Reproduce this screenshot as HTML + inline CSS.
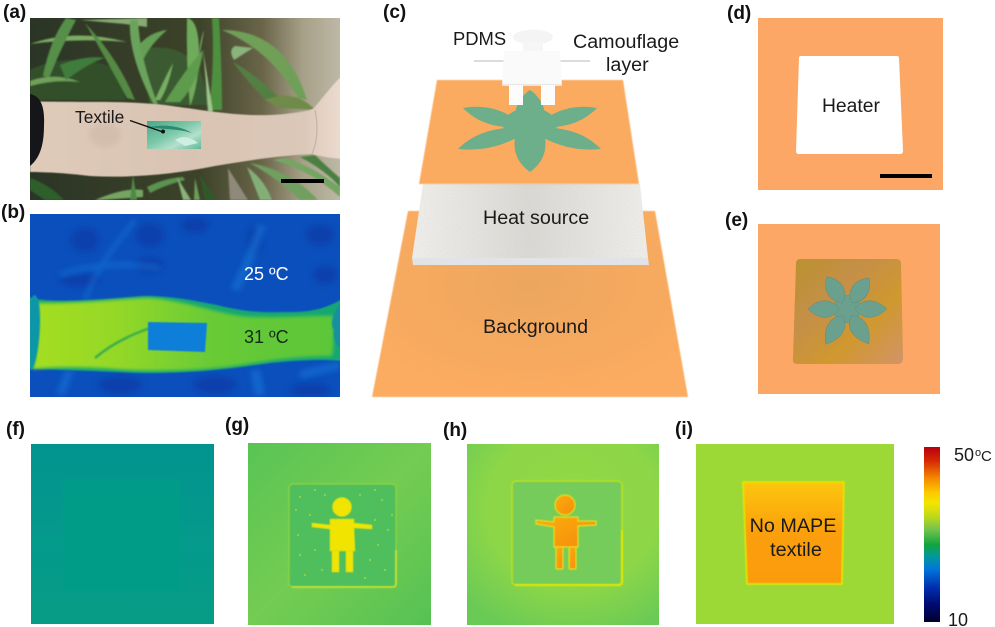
<!DOCTYPE html>
<html><head><meta charset="utf-8"><style>
html,body{margin:0;padding:0;background:#fff;width:995px;height:627px;overflow:hidden}
svg{display:block}
text{font-family:"Liberation Sans",sans-serif;fill:#1a1a1a}
.l{font-weight:bold;font-size:19px;fill:#111}
</style></head><body>
<svg width="995" height="627" viewBox="0 0 995 627" xmlns="http://www.w3.org/2000/svg">
<defs>
<filter id="b1" x="-10%" y="-10%" width="120%" height="120%"><feGaussianBlur stdDeviation="0.7"/></filter>
<filter id="b15" x="-10%" y="-10%" width="120%" height="120%"><feGaussianBlur stdDeviation="1.6"/></filter>
<filter id="b2" x="-20%" y="-20%" width="140%" height="140%"><feGaussianBlur stdDeviation="3"/></filter>
<filter id="soft" x="-10%" y="-10%" width="120%" height="120%"><feGaussianBlur stdDeviation="0.5"/></filter>
<filter id="grain" x="0" y="0" width="100%" height="100%"><feTurbulence type="fractalNoise" baseFrequency=".9" numOctaves="2" seed="3"/><feColorMatrix values="0 0 0 0 .45  0 0 0 0 .45  0 0 0 0 .42  0 0 0 1.1 -.42"/><feComposite in2="SourceGraphic" operator="in"/></filter>
<clipPath id="ca"><rect x="30" y="18" width="310" height="182"/></clipPath>
<clipPath id="cb"><rect x="30" y="214" width="310" height="183"/></clipPath>
<linearGradient id="aBg" x1="0" x2="1" y1="0" y2="0"><stop offset="0" stop-color="#2b3526"/><stop offset=".55" stop-color="#3d4329"/><stop offset=".75" stop-color="#6a6549"/><stop offset=".88" stop-color="#a7a088"/><stop offset="1" stop-color="#bdb8a6"/></linearGradient>
<linearGradient id="arm" x1="0" x2="1" y1="0" y2="0"><stop offset="0" stop-color="#e0cbba"/><stop offset=".5" stop-color="#d9c4b3"/><stop offset=".88" stop-color="#dcc8b9"/><stop offset="1" stop-color="#ecdcd0"/></linearGradient>
<linearGradient id="tex" x1="0" x2="1" y1="0" y2="1"><stop offset="0" stop-color="#45a98a"/><stop offset=".45" stop-color="#7cc8a8"/><stop offset=".7" stop-color="#b4e0cd"/><stop offset="1" stop-color="#5fb79a"/></linearGradient>
<linearGradient id="bArm" x1="0" x2="1" y1="0" y2="0"><stop offset="0" stop-color="#a4de20"/><stop offset=".28" stop-color="#94d828"/><stop offset=".6" stop-color="#68ca36"/><stop offset="1" stop-color="#5cc63a"/></linearGradient>
<linearGradient id="bf" x1="0" x2="0" y1="0" y2="1"><stop offset="0" stop-color="#02938f"/><stop offset=".55" stop-color="#049a8c"/><stop offset="1" stop-color="#069c85"/></linearGradient>
<linearGradient id="cb2" x1="0" x2="0" y1="0" y2="1">
<stop offset="0" stop-color="#b8000f"/><stop offset=".08" stop-color="#d52a05"/><stop offset=".18" stop-color="#f58a00"/><stop offset=".26" stop-color="#fdc800"/><stop offset=".32" stop-color="#f3e600"/><stop offset=".4" stop-color="#bcd81c"/><stop offset=".47" stop-color="#74c44c"/><stop offset=".56" stop-color="#0fa53e"/><stop offset=".62" stop-color="#029a96"/><stop offset=".7" stop-color="#0075dc"/><stop offset=".8" stop-color="#0030b0"/><stop offset=".9" stop-color="#000a70"/><stop offset="1" stop-color="#000030"/></linearGradient>
<linearGradient id="hs" x1="0" x2="1" y1="0" y2="0"><stop offset="0" stop-color="#f0efeb"/><stop offset=".5" stop-color="#dad9d5"/><stop offset="1" stop-color="#efeeea"/></linearGradient>
<radialGradient id="bgO" cx=".5" cy=".4" r=".6"><stop offset="0" stop-color="#eda65f"/><stop offset="1" stop-color="#fbac60"/></radialGradient>
<linearGradient id="metal" x1="0" x2="1" y1="0" y2="1"><stop offset="0" stop-color="#b9922f"/><stop offset=".35" stop-color="#c58f48"/><stop offset=".65" stop-color="#d0982e"/><stop offset="1" stop-color="#d29468"/></linearGradient>
<linearGradient id="gO" x1="0" x2="1" y1="0" y2="1"><stop offset="0" stop-color="#58c454"/><stop offset=".5" stop-color="#74cc52"/><stop offset="1" stop-color="#56c254"/></linearGradient>
<radialGradient id="hO" cx=".55" cy=".35" r=".75"><stop offset="0" stop-color="#94d844"/><stop offset=".6" stop-color="#8cd648"/><stop offset="1" stop-color="#6aca56"/></radialGradient>
<linearGradient id="iO" x1="0" x2="0" y1="0" y2="1"><stop offset="0" stop-color="#fdc60a"/><stop offset=".5" stop-color="#fb9f0d"/><stop offset="1" stop-color="#fb9c10"/></linearGradient>
<linearGradient id="hB" x1="0" x2="1" y1="0" y2="1"><stop offset="0" stop-color="#fcae0c"/><stop offset="1" stop-color="#f68a08"/></linearGradient>
</defs>

<!-- a -->
<g clip-path="url(#ca)">
<rect x="30" y="18" width="310" height="182" fill="url(#aBg)"/>
<g filter="url(#b1)">
<path d="M30 70 Q70 50 120 70 L125 100 L30 100Z" fill="#33502c"/>
<path d="M140 50 Q180 40 200 70 L210 105 L150 105Z" fill="#3a5a30"/>
<path d="M30 44 Q75 28 127 42 Q75 38 30 44Z" fill="#7cab62"/>
<path d="M80 20 L147 18 L147 27 L125 24Z" fill="#86ab72"/>
<path d="M43 76 Q50 40 66 18 L76 20 Q60 50 49 78Z" fill="#568f48"/>
<path d="M85 23 Q118 58 135 100 L127 98 Q108 62 85 23Z" fill="#558a45"/>
<path d="M153 103 Q128 55 130 20 L138 20 Q140 60 158 105Z" fill="#6ba45c"/>
<path d="M143 60 Q150 45 167 30 Q150 32 139 45Z" fill="#659f55"/>
<path d="M187 18 Q200 20 199 60 Q197 90 190 106 Q186 60 187 18Z" fill="#6fab5d"/>
<path d="M204 30 L199 58 Q200 40 204 30Z" fill="#8cbb7a"/>
<path d="M212 18 L219 18 Q222 70 222 110 L209 110 Q215 60 212 18Z" fill="#4e9140"/>
<path d="M203 50 L213 112 L208 112 Q206 80 203 50Z" fill="#a0c58d"/>
<path d="M165 102 Q185 70 203 50 Q200 80 180 102Z" fill="#5f9b4d"/>
<path d="M155 100 Q163 82 173 63 Q168 88 160 100Z" fill="#78ae64"/>
<path d="M222 30 Q285 30 307 100 L298 98 Q270 50 222 30Z" fill="#6f9f58"/>
<path d="M233 62 Q265 80 285 105 L268 102 Q250 85 233 62Z" fill="#527f42"/>
<path d="M234 60 L253 48 L235 46 Q228 50 234 60Z" fill="#8ab47c"/>
<path d="M265 100 Q295 88 315 110 L280 108Z" fill="#6f8a48"/>
<path d="M30 81 Q55 72 80 82 Q55 79 30 86Z" fill="#6fa05c"/>
<path d="M60 65 Q85 55 105 58 Q90 62 66 80Z" fill="#3f7c3b"/>
<path d="M30 178 Q50 185 64 200 L45 200 L30 190Z" fill="#2f5e2c"/>
<path d="M95 200 Q125 187 143 190 L143 197 L100 200Z" fill="#76a562"/>
<path d="M147 187 Q165 178 183 177 L185 180 Q165 185 150 193Z" fill="#5a9450"/>
<path d="M133 175 L137 200 L130 200Z" fill="#4f8a45"/>
<path d="M177 177 L191 200 L183 200Z" fill="#8ab27a"/>
<path d="M195 178 L200 200 L194 200Z" fill="#6a9f5a"/>
<path d="M200 175 L216 200 L205 200Z" fill="#2f5a2c"/>
<path d="M228 168 L248 200 L230 200Z" fill="#8f897a"/>
<path d="M247 167 Q265 180 272 200 L260 200Z" fill="#83ae77"/>
<path d="M250 163 Q290 170 318 200 L300 200 Q280 180 250 163Z" fill="#6f9f5e"/>
<path d="M273 160 Q310 170 340 197 L340 187 Q310 165 285 158Z" fill="#75a564"/>
<path d="M300 157 Q325 170 340 187 L340 178 Q325 165 315 155Z" fill="#4a7f40"/>
</g>
<path d="M30 101 C70 103 120 100 165 105 C210 111 245 118 285 114 C300 112 310 111 314 108 C325 95 335 82 342 76 L342 159 C330 158 318 156 312 154 C285 155 250 160 215 166 C170 175 130 178 90 176 C65 173 45 172 30 172 Z" fill="url(#arm)" filter="url(#soft)"/>
<path d="M315 110 C318 125 318 140 312 154" stroke="#c8b1a0" stroke-width="1.2" fill="none"/>
<ellipse cx="105" cy="135" rx="16" ry="12" fill="#d3bdac" filter="url(#b2)"/>
<path d="M30 94 C40 96 45 105 44 125 C44 145 40 158 30 166 Z" fill="#15161a"/>
<rect x="147" y="121" width="54" height="28" fill="url(#tex)"/>
<path d="M150 127 C165 124 180 126 192 133 C175 128 165 130 150 127" fill="#2c8a70"/>
<path d="M175 140 C183 135 190 137 198 143 L185 146 Z" fill="#cdeee0"/>
<line x1="130" y1="120.500" x2="163" y2="132" stroke="#111" stroke-width="1.4"/>
<circle cx="163" cy="131.500" r="2" fill="#111"/>
<rect x="281" y="179" width="43" height="4" fill="#000"/>
</g>
<text x="75" y="123" style="font-size:17.400px">Textile</text>
<text class="l" x="3" y="18">(a)</text>
<text class="l" x="1" y="218">(b)</text>

<!-- b -->
<g clip-path="url(#cb)">
<rect x="30" y="214" width="310" height="183" fill="#0b4fbc"/>
<g filter="url(#b2)" fill="#0a3aa6" opacity=".7">
<ellipse cx="85" cy="240" rx="14" ry="12"/><ellipse cx="150" cy="235" rx="14" ry="12"/><ellipse cx="195" cy="225" rx="14" ry="8"/>
<ellipse cx="80" cy="280" rx="20" ry="7"/><ellipse cx="150" cy="265" rx="14" ry="8"/><ellipse cx="255" cy="240" rx="8" ry="14"/>
<ellipse cx="320" cy="235" rx="14" ry="10"/><ellipse cx="325" cy="275" rx="12" ry="9"/><ellipse cx="120" cy="385" rx="22" ry="9"/><ellipse cx="215" cy="385" rx="22" ry="9"/><ellipse cx="310" cy="390" rx="20" ry="7"/>
</g>
<g filter="url(#b2)" fill="none" stroke="#1575d6" opacity=".6">
<path d="M60 275 C90 265 120 262 160 268" stroke-width="5"/>
<path d="M235 290 C245 270 255 245 262 225" stroke-width="9"/>
<path d="M85 300 C100 260 120 240 135 220" stroke-width="4"/>
<path d="M60 395 L70 370" stroke-width="8"/>
<path d="M260 395 L255 370" stroke-width="10"/>
<path d="M300 375 L340 365" stroke-width="8"/>
</g>
<path d="M26 296 C40 303 80 302 143 296 C175 296 195 301 217 305 C240 311 260 313 283 312 C300 312 320 313 344 298 L344 361 C320 359 300 360 270 363 C230 369 190 373 150 373 C100 372 60 369 26 369 Z" fill="#16a872" filter="url(#b1)"/>
<path d="M38 303 C80 304 130 298 150 298 C180 300 210 311 240 316 C270 319 310 315 334 316 C334 330 334 345 332 356 C300 356 270 360 240 365 C200 371 160 371 130 370 C90 367 60 366 33 369 C38 345 38 325 38 303 Z" fill="url(#bArm)" filter="url(#b15)"/>
<path d="M35 295 C27 295 30 330 30 370 C36 370 40 340 40 320 C40 305 38 297 35 295Z" fill="#0f96a8" filter="url(#b1)"/>
<path d="M340 303 C332 315 330 325 334 330 C333 340 336 345 342 350 Z" fill="#1290a0" filter="url(#b1)"/>
<path d="M95 358 C110 345 130 335 150 328" stroke="#3aae4a" stroke-width="2.5" fill="none" filter="url(#b1)"/>
<path d="M148 322 L207 323 L205 352 L148 350 Z" fill="#0f7fd8" filter="url(#soft)"/>
</g>
<text x="244" y="280" style="fill:#fff;font-size:18px">25 ºC</text>
<text x="244" y="343" style="fill:#132b16;font-size:18px">31 ºC</text>

<!-- c -->
<text class="l" x="383" y="18">(c)</text>
<text x="453" y="45" style="font-size:18.400px">PDMS</text>
<text x="573" y="48" style="font-size:19.700px">Camouflage</text>
<text x="606" y="71" style="font-size:19.700px">layer</text>
<path d="M408 211 L655 211 L688 397 L372 397 Z" fill="url(#bgO)" filter="url(#soft)"/>
<path d="M423 184 L640 184 L648 258 L412 258 Z" fill="url(#hs)"/>
<path d="M423 184 L640 184 L648 258 L412 258 Z" fill="#000" filter="url(#grain)" opacity=".35"/>
<path d="M412 258 L648 258 L649 265 L413 265 Z" fill="#e2e3e6"/>
<path d="M437 80 L623 80 L639 184 L419 184 Z" fill="#fbab5f" filter="url(#soft)"/>
<g fill="#6dae8b">
<ellipse cx="530" cy="125" rx="27" ry="17"/>
<path d="M530 90 C542 98 548 112 545 130 L515 130 C512 112 518 98 530 90Z"/>
<path d="M530 172 C516 162 511 148 517 128 L543 128 C549 148 544 162 530 172Z"/>
<path d="M463 108 C485 104 505 110 518 122 L505 127 C485 125 473 118 463 108Z"/>
<path d="M597 108 C575 104 555 110 542 122 L555 127 C575 125 587 118 597 108Z"/>
<path d="M458 149 C472 135 488 130 506 128 L518 137 C498 148 478 151 458 149Z"/>
<path d="M601 149 C587 135 572 130 554 128 L542 137 C562 148 582 151 601 149Z"/>
</g>
<rect x="474" y="60" width="116" height="2" fill="#dcdcdc"/>
<ellipse cx="533" cy="37" rx="20" ry="7.500" fill="#f4f4f4"/>
<rect x="523" y="42" width="20" height="10" fill="#f6f6f6"/>
<path d="M504 51 L560 51 L562 86 L502 86 Z" fill="#fafafa"/>
<rect x="502" y="84" width="60" height="2" fill="#e6e6e6"/>
<rect x="509" y="85" width="14" height="20" fill="#fcfcfc"/>
<rect x="541" y="85" width="14" height="20" fill="#fcfcfc"/>
<text x="483" y="224" style="font-size:19.700px">Heat source</text>
<text x="483" y="333" style="font-size:19.700px">Background</text>

<!-- d -->
<text class="l" x="727" y="19">(d)</text>
<rect x="758" y="18" width="185" height="172" fill="#fca765"/>
<path d="M801 56 L897 56 Q899 56 899 58 L903 151 Q903 154 900 154 L799 154 Q796 154 796 151 L799 58 Q799 56 801 56Z" fill="#fff"/>
<text x="822" y="112" style="font-size:19.300px">Heater</text>
<rect x="880" y="174" width="52" height="4" fill="#000"/>

<!-- e -->
<text class="l" x="725" y="226">(e)</text>
<rect x="758" y="224" width="182" height="170" fill="#fca765"/>
<path d="M800 259 L896 259 Q901 259 901 264 L903 358 Q903 364 898 364 L797 364 Q792 364 793 358 L796 264 Q796 259 800 259Z" fill="url(#metal)"/>
<g fill="#6ba08f" stroke="#56907f" stroke-width=".5">
<circle cx="847" cy="309" r="13.500"/>
<g transform="translate(847 309)">
<path transform="rotate(-32)" d="M0 -8 C11 -15 11 -28 0 -38 C-11 -28 -11 -15 0 -8Z"/>
<path transform="rotate(35)" d="M0 -8 C11 -15 11 -28 0 -38 C-11 -28 -11 -15 0 -8Z"/>
<path transform="rotate(90)" d="M0 -8 C11 -15 11 -28 0 -40 C-11 -28 -11 -15 0 -8Z"/>
<path transform="rotate(-90)" d="M0 -8 C11 -15 11 -28 0 -39 C-11 -28 -11 -15 0 -8Z"/>
<path transform="rotate(-149)" d="M0 -8 C11 -15 11 -28 0 -41 C-11 -28 -11 -15 0 -8Z"/>
<path transform="rotate(148)" d="M0 -8 C11 -15 11 -28 0 -41 C-11 -28 -11 -15 0 -8Z"/>
</g>
</g>

<!-- f -->
<text class="l" x="6" y="435">(f)</text>
<rect x="31" y="444" width="183" height="180" fill="url(#bf)"/>
<rect x="63" y="480" width="117" height="110" fill="#069c88" filter="url(#b1)"/>

<!-- g -->
<text class="l" x="225" y="431">(g)</text>
<rect x="248" y="443" width="183" height="182" fill="url(#gO)"/>
<rect x="289" y="484" width="107" height="103" rx="4" fill="#4fbe5c" stroke="#a8dc32" stroke-opacity=".55" stroke-width="1.5" filter="url(#soft)"/>
<path d="M292 587 L393 587 Q396 587 396 584 L396 550" stroke="#bfe030" stroke-width="1.800" fill="none" filter="url(#soft)"/>
<g fill="#9ad84e" opacity=".75">
<circle cx="300" cy="497" r="1.200"/><circle cx="310" cy="515" r="1.200"/><circle cx="382" cy="500" r="1.200"/><circle cx="375" cy="520" r="1.200"/><circle cx="388" cy="530" r="1.200"/><circle cx="298" cy="535" r="1.200"/><circle cx="315" cy="550" r="1.200"/><circle cx="370" cy="560" r="1.200"/><circle cx="305" cy="575" r="1.200"/><circle cx="385" cy="570" r="1.200"/><circle cx="360" cy="495" r="1.200"/><circle cx="325" cy="495" r="1.200"/><circle cx="296" cy="510" r="1.200"/><circle cx="392" cy="515" r="1.200"/><circle cx="378" cy="545" r="1.200"/><circle cx="300" cy="555" r="1.200"/><circle cx="322" cy="570" r="1.200"/><circle cx="365" cy="578" r="1.200"/><circle cx="375" cy="490" r="1.200"/><circle cx="315" cy="490" r="1.200"/>
</g>
<g fill="#f0e400" filter="url(#soft)" stroke="#cfe020" stroke-width=".6">
<circle cx="342" cy="507" r="9.500"/>
<path d="M312 523 L330 525 L330 519 L354 519 L354 523 L372 525 L372 529 L354 528 L355 551 L330 551 L330 529 L312 527Z"/>
<rect x="332" y="551" width="7" height="21"/><rect x="346" y="551" width="7" height="21"/>
</g>

<!-- h -->
<text class="l" x="443" y="436">(h)</text>
<rect x="467" y="444" width="192" height="181" fill="url(#hO)"/>
<rect x="512" y="481" width="110" height="104" rx="4" fill="#76cc5a" stroke="#cfe40a" stroke-opacity=".7" stroke-width="1.600" filter="url(#soft)"/>
<path d="M515 585 L619 585 Q622 585 622 582 L622 530" stroke="#dce600" stroke-width="2" fill="none" filter="url(#soft)"/>
<g fill="url(#hB)" stroke="#dfe020" stroke-width="1.200" filter="url(#soft)">
<circle cx="565" cy="505" r="10"/>
<path d="M536 520 L554 522 L554 517 L578 517 L578 521 L596 521 L596 525 L578 526 L578 547 L554 547 L554 527 L536 524Z"/>
<rect x="556" y="547" width="7" height="22" rx="1"/><rect x="569" y="547" width="7" height="22" rx="1"/>
</g>

<!-- i -->
<text class="l" x="675" y="435">(i)</text>
<rect x="696" y="444" width="198" height="180" fill="#9cd936"/>
<path d="M743 482 L844 482 L842 584 L747 584 Z" fill="url(#iO)" stroke="#e6e600" stroke-width="1.500" filter="url(#soft)"/>
<text x="793" y="532" text-anchor="middle" style="font-size:19.800px">No MAPE</text>
<text x="796" y="556" text-anchor="middle" style="font-size:19.800px">textile</text>

<!-- colorbar -->
<rect x="924" y="447" width="16" height="175" fill="url(#cb2)"/>
<text x="954" y="461" style="font-size:18px">50</text>
<text x="975" y="456" style="font-size:11px">o</text>
<text x="981" y="461" style="font-size:15px">C</text>
<text x="948" y="626" style="font-size:18px">10</text>
</svg>
</body></html>
